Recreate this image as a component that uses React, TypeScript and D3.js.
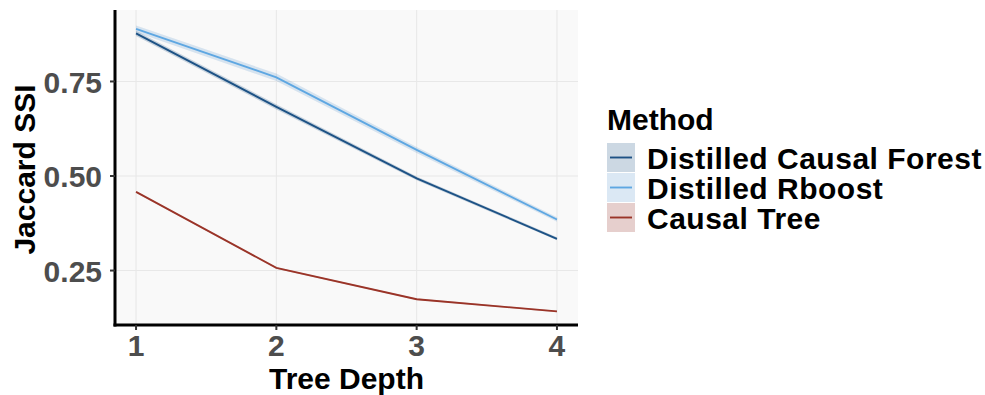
import React from "react";
import * as d3 from "d3";

// Tree depths on the x axis
const depths = [1, 2, 3, 4];

// Mean Jaccard SSI per method, with lower / upper band bounds
const forestMean = [0.877, 0.683, 0.494, 0.334];
const forestLow = [0.870, 0.676, 0.489, 0.330];
const forestHigh = [0.884, 0.690, 0.499, 0.338];

const rboostMean = [0.889, 0.761, 0.569, 0.385];
const rboostLow = [0.880, 0.751, 0.561, 0.379];
const rboostHigh = [0.898, 0.771, 0.577, 0.391];

const treeMean = [0.458, 0.257, 0.174, 0.142];
const treeLow = [0.456, 0.255, 0.172, 0.140];
const treeHigh = [0.460, 0.259, 0.176, 0.144];

const yTicks = [0.25, 0.5, 0.75];
const yTickLabels = ["0.25", "0.50", "0.75"];

const methods = ["Distilled Causal Forest", "Distilled Rboost", "Causal Tree"];
const lineColors = ["#1d5285", "#5ea7e2", "#9a3428"];
const fillColors = ["#003c73", "#4b8cc8", "#820f05"];

const W = 985;
const H = 395;
const panel = { left: 115, right: 578, top: 10, bottom: 325 };
const FONT = "'Liberation Sans', Arial, Helvetica, sans-serif";

export default function App() {
  const x = d3
    .scaleLinear()
    .domain([0.85, 4.15])
    .range([panel.left, panel.right]);
  const y = d3
    .scaleLinear()
    .domain([0.106, 0.939])
    .range([panel.bottom, panel.top]);

  const series = [
    { mean: forestMean, low: forestLow, high: forestHigh },
    { mean: rboostMean, low: rboostLow, high: rboostHigh },
    { mean: treeMean, low: treeLow, high: treeHigh },
  ];

  const line = d3
    .line<number>()
    .x((_, i) => x(depths[i]))
    .y((d) => y(d));

  const band = (low: number[], high: number[]) =>
    d3
      .area<number>()
      .x((_, i) => x(depths[i]))
      .y0((_, i) => y(low[i]))
      .y1((_, i) => y(high[i]))(depths) || "";

  const keyTop = 143;
  const keyStep = 30;
  const keySize = 29;

  return (
    <svg
      width={W}
      height={H}
      style={{ position: "absolute", left: 0, top: 0, background: "#ffffff" }}
      fontFamily={FONT}
    >
      {/* panel background */}
      <rect
        x={panel.left}
        y={panel.top}
        width={panel.right - panel.left}
        height={panel.bottom - panel.top}
        fill="#f9f9f9"
      />
      {/* grid */}
      {yTicks.map((t) => (
        <line
          key={"gy" + t}
          x1={panel.left}
          x2={panel.right}
          y1={y(t)}
          y2={y(t)}
          stroke="#e8e8e8"
          strokeWidth={1.1}
        />
      ))}
      {depths.map((d) => (
        <line
          key={"gx" + d}
          x1={x(d)}
          x2={x(d)}
          y1={panel.top}
          y2={panel.bottom}
          stroke="#e8e8e8"
          strokeWidth={1.1}
        />
      ))}

      {/* confidence bands */}
      {series.map((s, i) => (
        <path
          key={"band" + i}
          d={band(s.low, s.high)}
          fill={fillColors[i]}
          fillOpacity={0.2}
        />
      ))}
      {/* mean lines */}
      {series.map((s, i) => (
        <path
          key={"line" + i}
          d={line(s.mean) || ""}
          fill="none"
          stroke={lineColors[i]}
          strokeWidth={1.9}
        />
      ))}

      {/* axes */}
      <line
        x1={panel.left}
        x2={panel.left}
        y1={panel.top}
        y2={panel.bottom + 1.5}
        stroke="#000"
        strokeWidth={3}
      />
      <line
        x1={panel.left - 1.5}
        x2={panel.right}
        y1={panel.bottom}
        y2={panel.bottom}
        stroke="#000"
        strokeWidth={3}
      />
      {yTicks.map((t, i) => (
        <g key={"yt" + t}>
          <line
            x1={panel.left - 5}
            x2={panel.left}
            y1={y(t)}
            y2={y(t)}
            stroke="#333"
            strokeWidth={2}
          />
          <text
            x={panel.left - 13}
            y={y(t)}
            dy="0.37em"
            textAnchor="end"
            fontSize={30}
            fontWeight="bold"
            fill="#4d4d4d"
          >
            {yTickLabels[i]}
          </text>
        </g>
      ))}
      {depths.map((d) => (
        <g key={"xt" + d}>
          <line
            x1={x(d)}
            x2={x(d)}
            y1={panel.bottom}
            y2={panel.bottom + 5}
            stroke="#333"
            strokeWidth={2}
          />
          <text
            x={x(d)}
            y={356}
            textAnchor="middle"
            fontSize={30}
            fontWeight="bold"
            fill="#4d4d4d"
          >
            {d}
          </text>
        </g>
      ))}

      {/* axis titles */}
      <text
        x={(panel.left + panel.right) / 2}
        y={389}
        textAnchor="middle"
        fontSize={30}
        fontWeight="bold"
        fill="#000"
      >
        Tree Depth
      </text>
      <text
        transform={`translate(35, ${(panel.top + panel.bottom) / 2 + 2}) rotate(-90)`}
        textAnchor="middle"
        fontSize={30}
        fontWeight="bold"
        fill="#000"
      >
        Jaccard SSI
      </text>

      {/* legend */}
      <text x={607} y={130} fontSize={30} fontWeight="bold" fill="#000">
        Method
      </text>
      {methods.map((m, i) => {
        const top = keyTop + i * keyStep;
        return (
          <g key={"lg" + i}>
            <rect
              x={607}
              y={top}
              width={28}
              height={keySize}
              fill="#ffffff"
            />
            <rect
              x={607}
              y={top}
              width={28}
              height={keySize}
              fill={fillColors[i]}
              fillOpacity={0.2}
            />
            <line
              x1={610}
              x2={632}
              y1={top + keySize / 2}
              y2={top + keySize / 2}
              stroke={lineColors[i]}
              strokeWidth={1.9}
            />
            <text
              x={647}
              y={top + keySize / 2}
              dy="0.37em"
              fontSize={30}
              fontWeight="bold"
              letterSpacing={0.5}
              fill="#000"
            >
              {m}
            </text>
          </g>
        );
      })}
    </svg>
  );
}
